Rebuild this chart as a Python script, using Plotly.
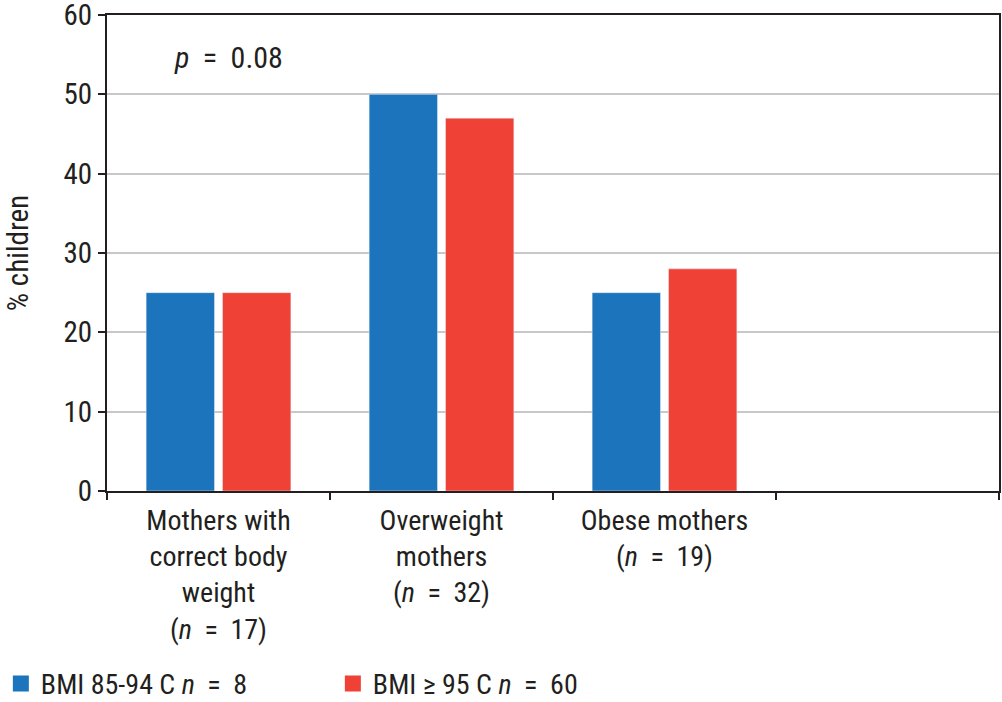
import plotly.graph_objects as go

EQ = "\u2002=\u2002"
categories = [
    "Mothers with<br>correct body<br>weight<br>(<i>n</i>" + EQ + "17)",
    "Overweight<br>mothers<br>(<i>n</i>" + EQ + "32)",
    "Obese mothers<br>(<i>n</i>" + EQ + "19)",
    " ",
]
blue_values = [25, 50, 25, None]
red_values = [25, 47, 28, None]
series_names = ["BMI 85-94 C <i>n</i>" + EQ + "8", "BMI ≥ 95 C <i>n</i>" + EQ + "60"]
y_ticks = [0, 10, 20, 30, 40, 50, 60]
p_text = "<i>p</i>" + EQ + "0.08"

BLUE = "#1c75bc"
RED = "#ef4136"
FONT = "Liberation Sans Narrow, Roboto Condensed, Arial Narrow, sans-serif"
DARK = "#231f20"

fig = go.Figure()
fig.add_trace(go.Bar(x=categories, y=blue_values, marker_color=BLUE, name=series_names[0], showlegend=False))
fig.add_trace(go.Bar(x=categories, y=red_values, marker_color=RED, name=series_names[1], showlegend=False))
# legend entries
for nm, col in zip(series_names, [BLUE, RED]):
    fig.add_trace(go.Scatter(x=[None], y=[None], mode="markers", name=nm,
                             marker=dict(symbol="square", size=18, color=col)))

fig.update_layout(
    width=1002, height=702,
    margin=dict(l=107, r=3, t=15, b=211, autoexpand=False),
    paper_bgcolor="white", plot_bgcolor="white",
    font=dict(family=FONT, size=28, color=DARK),
    barmode="group", bargap=0.315, bargroupgap=0.105,
    legend=dict(orientation="h", xref="paper", yref="paper",
                x=-0.119, y=-0.405, xanchor="left", yanchor="middle",
                font=dict(size=28), itemwidth=30, tracegroupgap=0,
                entrywidth=287, entrywidthmode="pixels", bgcolor="rgba(0,0,0,0)"),
    annotations=[dict(text=p_text, xref="paper", yref="y", xanchor="center",
                      x=0.136, y=54.6, showarrow=False, font=dict(size=30))],
)
fig.update_xaxes(
    type="category", categoryorder="array", categoryarray=categories,
    range=[-0.5, 3.5], tickson="boundaries", ticks="outside", ticklen=7,
    tickwidth=2, tickcolor=DARK, showline=True, linecolor=DARK, linewidth=2,
    mirror=True, showgrid=False, tickfont=dict(size=28), automargin=False,
    ticklabelstandoff=3,
)
fig.update_yaxes(
    range=[0, 60], tickvals=y_ticks, ticks="outside",
    ticklen=7, tickwidth=2, ticklabeloverflow="allow",
    tickcolor=DARK, showline=True, linecolor=DARK, linewidth=2, mirror=True,
    showgrid=True, gridcolor="#c8c8c8", gridwidth=1.5, zeroline=False,
    tickfont=dict(size=29), automargin=False,
    title=dict(text="% children", font=dict(size=29), standoff=26),
)

fig.write_html("out.html", post_script="document.body.style.margin='0';",
               config={"displayModeBar": False})
